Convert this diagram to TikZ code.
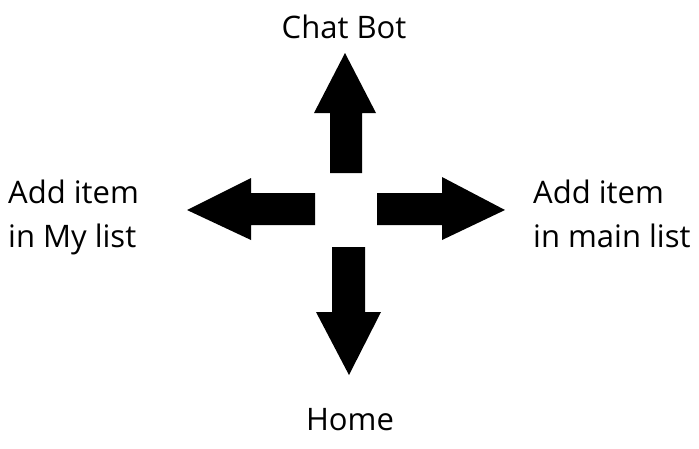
\documentclass[tikz,border=0pt]{standalone}
\usepackage{fontspec}
\setmainfont{Open Sans}
\begin{document}
\begin{tikzpicture}[x=1pt,y=-1pt,
  lbl/.style={inner sep=0pt,font=\fontsize{31}{44}\selectfont},
  arrowshape/.style={fill=black,draw=none}]
\useasboundingbox (0,0) rectangle (699,448);
% labels
\node[lbl,anchor=base] (chat) at (344,38) {Chat Bot};
\node[lbl,anchor=base] (home) at (350,430) {Home};
\node[lbl,anchor=base west,align=left] (mylist) at (8,247) {Add item\\in My list};
\node[lbl,anchor=base west,align=left] (mainlist) at (533,247) {Add item\\in main list};
% arrows
\fill[arrowshape] (330,173) -- (330,113) -- (314,113) -- (345,53) -- (376,113) -- (362,113) -- (362,173) -- cycle;
\fill[arrowshape] (315,193) -- (251,193) -- (251,178) -- (187,210) -- (251,240) -- (251,225) -- (315,225) -- cycle;
\fill[arrowshape] (377,193) -- (442,193) -- (442,177) -- (505,210) -- (442,240) -- (442,225) -- (377,225) -- cycle;
\fill[arrowshape] (332,247) -- (332,312) -- (316,312) -- (349,375) -- (381,312) -- (365,312) -- (365,247) -- cycle;
\end{tikzpicture}
\end{document}
